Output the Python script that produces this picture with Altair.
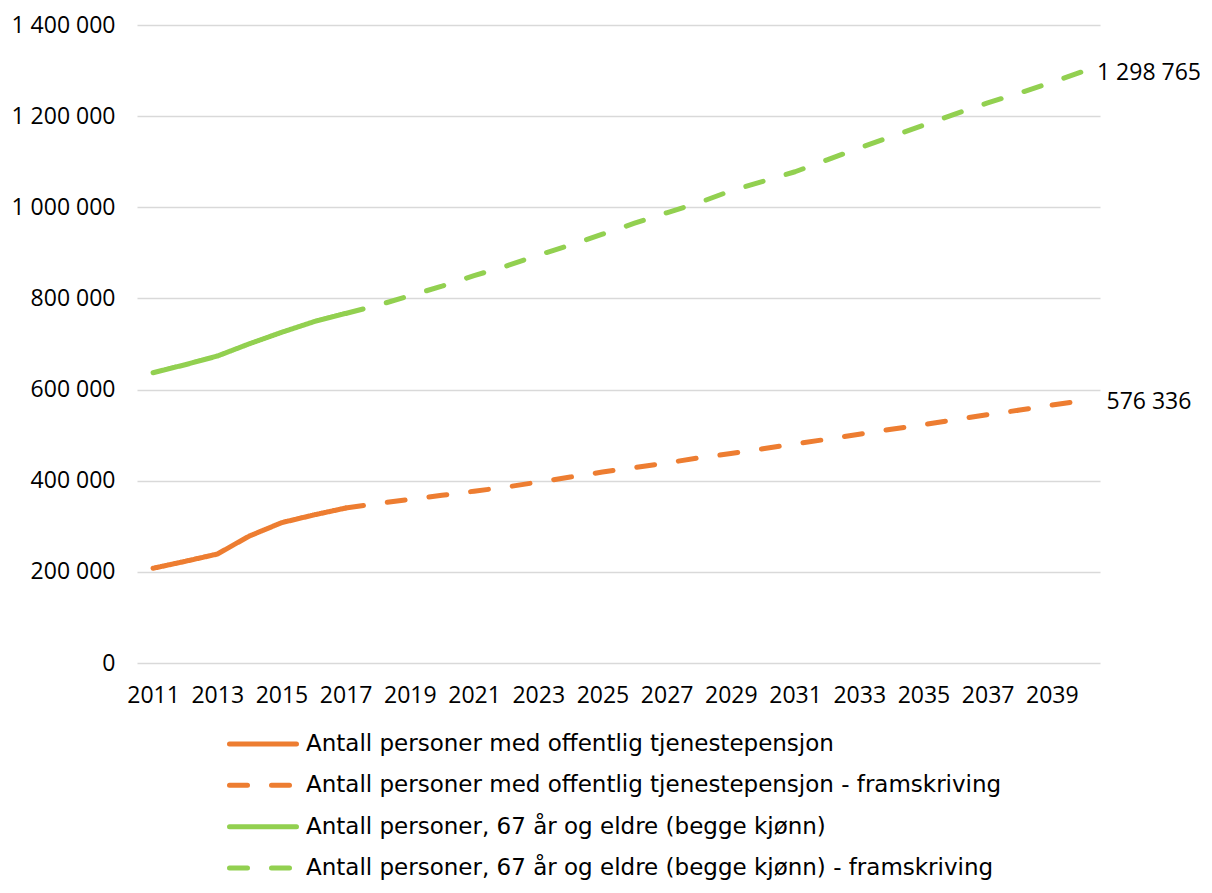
import altair as alt
import pandas as pd

# ---------------- data ----------------
years = list(range(2011, 2041))
hist_years = years[:7]          # 2011-2017
proj_years = years[6:]          # 2017-2040

tp_hist = [207800, 223000, 239000, 278600, 307800, 324700, 340000]
tp_proj = [340000, 350000, 359000, 368000, 377000, 386000, 397000, 408000,
           419000, 429000, 439000, 450000, 459500, 470000, 481000, 491000,
           502000, 513000, 523000, 534000, 545000, 555000, 566000, 576336]

old_hist = [637000, 654500, 673500, 700500, 725500, 748800, 767000]
old_proj = [767000, 785000, 806000, 827000, 850000, 871000, 895000, 917000,
            941000, 965000, 988000, 1010000, 1036000, 1057000, 1078000, 1104000,
            1130000, 1155000, 1180000, 1205000, 1229000, 1251000, 1274000, 1298765]

s1 = "Antall personer med offentlig tjenestepensjon"
s2 = "Antall personer med offentlig tjenestepensjon - framskriving"
s3 = "Antall personer, 67 år og eldre (begge kjønn)"
s4 = "Antall personer, 67 år og eldre (begge kjønn) - framskriving"
series_names = [s1, s2, s3, s4]

y_ticks = [0, 200000, 400000, 600000, 800000, 1000000, 1200000, 1400000]
x_ticks = years[::2]

ORANGE = "#ED7D31"
GREEN = "#92D050"
FONT = "Open Sans"
LEG_FONT = "DejaVu Sans"

rows = []
for s, ys, vs in [(s1, hist_years, tp_hist), (s2, proj_years, tp_proj),
                  (s3, hist_years, old_hist), (s4, proj_years, old_proj)]:
    for y, v in zip(ys, vs):
        rows.append({"year": y, "value": v, "series": s})
df = pd.DataFrame(rows)

end_df = pd.DataFrame({
    "year": [years[-1], years[-1]],
    "value": [tp_proj[-1], old_proj[-1]],
    "label": [f"{tp_proj[-1]:,}".replace(",", " "), f"{old_proj[-1]:,}".replace(",", " ")],
})

leg_df = pd.DataFrame({"series": series_names})

color_scale = alt.Scale(domain=series_names, range=[ORANGE, ORANGE, GREEN, GREEN])
dash_scale = alt.Scale(domain=series_names, range=[[1, 0], [18, 24], [1, 0], [18, 24]])

x_scale = alt.Scale(domain=[2010.5, 2040.5], nice=False, zero=False)
x_enc = alt.X("year:Q", scale=x_scale,
              axis=alt.Axis(values=x_ticks, format="d", title=None, grid=False,
                            domain=False, ticks=False, labelPadding=21))
y_scale = alt.Scale(domain=[0, 1400000], nice=False, zero=True)

lines = alt.Chart(df).mark_line(strokeWidth=5, strokeCap="round", strokeJoin="round").encode(
    x=x_enc,
    y=alt.Y("value:Q", scale=y_scale,
            axis=alt.Axis(values=y_ticks, title=None, domain=False, ticks=False,
                          labelPadding=22, gridColor="#d9d9d9", gridWidth=1.3,
                          labelExpr="replace(format(datum.value, ','), regexp(',', 'g'), ' ')")),
    color=alt.Color("series:N", scale=color_scale, legend=None),
    strokeDash=alt.StrokeDash("series:N", scale=dash_scale, legend=None),
    detail="series:N",
)

end_labels = alt.Chart(end_df).mark_text(
    align="center", baseline="middle", dx=65, dy=2, fontSize=23, font=FONT, color="#000"
).encode(
    x=alt.X("year:Q", scale=x_scale),
    y=alt.Y("value:Q", scale=y_scale, axis=None),
    text="label:N",
)

leg_y = alt.Y("series:N", scale=alt.Scale(type="point", domain=series_names,
                                          range=[719, 843], padding=0), axis=None)

leg_rules = alt.Chart(leg_df).mark_rule(strokeWidth=5, strokeCap="round").encode(
    x=alt.value(92.5), x2=alt.value(159.5),
    y=leg_y,
    color=alt.Color("series:N", scale=color_scale, legend=None),
    strokeDash=alt.StrokeDash("series:N", scale=dash_scale, legend=None),
)

leg_text = alt.Chart(leg_df).mark_text(
    align="left", baseline="middle", fontSize=23, font=LEG_FONT, color="#000"
).encode(
    x=alt.value(169),
    y=leg_y,
    text="series:N",
)

chart = alt.layer(lines, end_labels, leg_rules, leg_text).resolve_scale(
    y="independent"
).properties(
    width=963, height=638,
    autosize=alt.AutoSizeParams(type="none"),
    padding={"left": 129, "top": 17, "right": 100, "bottom": 217},
    background="white",
).configure_view(stroke=None).configure_axis(
    labelFont=FONT, labelFontSize=23, labelColor="#000"
)

chart.save("out.html", embed_options={"renderer": "svg", "actions": False})
